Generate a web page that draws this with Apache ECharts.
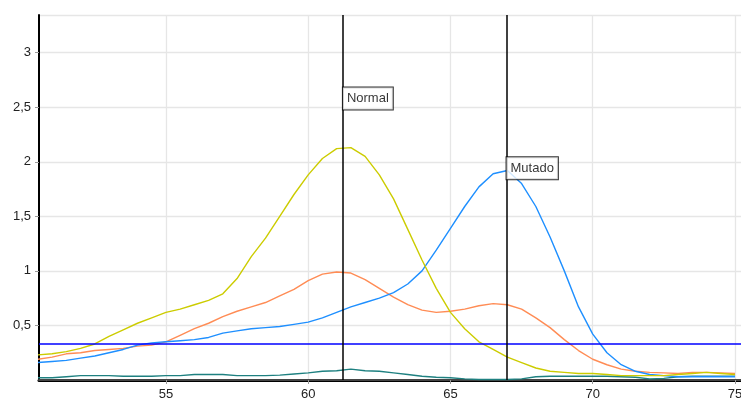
<!DOCTYPE html>
<html>
<head>
<meta charset="utf-8">
<script src="https://cdn.jsdelivr.net/npm/echarts@6/dist/echarts.min.js"></script>
<style>
  html, body { margin: 0; padding: 0; background: #fff; }
  #chart { width: 741px; height: 405px; }
</style>
</head>
<body>
<div id="chart"></div>
<script>
// Temperature (°C) sampled every 0.5 degrees
const temps = [50.5,51,51.5,52,52.5,53,53.5,54,54.5,55,55.5,56,56.5,57,57.5,58,58.5,59,59.5,60,
  60.5,61,61.5,62,62.5,63,63.5,64,64.5,65,65.5,66,66.5,67,67.5,68,68.5,69,69.5,70,
  70.5,71,71.5,72,72.5,73,73.5,74,74.5,75];

// Melt-curve derivative values per sample
const yellowVals = [0.23,0.24,0.26,0.29,0.33,0.40,0.46,0.52,0.57,0.62,0.65,0.69,0.73,0.79,0.93,1.13,1.30,1.50,1.70,1.88,
  2.03,2.12,2.13,2.05,1.88,1.66,1.38,1.10,0.84,0.62,0.47,0.35,0.28,0.21,0.16,0.11,0.08,0.07,0.06,0.06,
  0.05,0.04,0.04,0.04,0.04,0.05,0.06,0.07,0.06,0.05];
const orangeVals = [0.19,0.21,0.24,0.25,0.27,0.28,0.29,0.31,0.32,0.35,0.41,0.47,0.52,0.58,0.63,0.67,0.71,0.77,0.83,0.91,
  0.97,0.99,0.98,0.92,0.84,0.76,0.69,0.64,0.62,0.63,0.65,0.68,0.70,0.69,0.65,0.57,0.48,0.37,0.27,0.19,
  0.14,0.10,0.08,0.07,0.065,0.06,0.07,0.07,0.065,0.06];
const blueVals = [0.16,0.17,0.18,0.20,0.22,0.25,0.28,0.32,0.34,0.35,0.36,0.37,0.39,0.43,0.45,0.47,0.48,0.49,0.51,0.53,
  0.57,0.62,0.67,0.71,0.75,0.80,0.88,1.00,1.19,1.39,1.59,1.77,1.89,1.92,1.80,1.59,1.31,1.00,0.67,0.42,
  0.25,0.14,0.08,0.05,0.04,0.03,0.03,0.03,0.03,0.03];
const tealVals = [0.02,0.02,0.03,0.04,0.04,0.04,0.035,0.035,0.035,0.04,0.04,0.05,0.05,0.05,0.04,0.04,0.04,0.045,0.055,0.065,
  0.08,0.085,0.1,0.085,0.08,0.065,0.05,0.035,0.025,0.02,0.01,0.005,0.005,0.005,0.01,0.03,0.035,0.035,0.035,0.035,
  0.035,0.03,0.025,0.01,0.015,0.03,0.035,0.035,0.035,0.035];

// Threshold and marker positions
const threshold = 0.33;
const markers = [
  { name: 'Normal', temp: 61.22, level: 2.58 },
  { name: 'Mutado', temp: 66.97, level: 1.94 }
];

const xTicks = [55, 60, 65, 70, 75];

const pair = vals => temps.map((t, i) => [t, vals[i]]);
const lineSeries = (vals, color) => ({
  type: 'line', data: pair(vals), showSymbol: false, smooth: false,
  lineStyle: { color: color, width: 1.4 }, silent: true, z: 3
});

const chart = echarts.init(document.getElementById('chart'), null, { renderer: 'canvas' });
chart.setOption({
  animation: false,
  backgroundColor: '#ffffff',
  textStyle: { fontFamily: 'Liberation Sans, Arial, sans-serif' },
  grid: { left: 39, right: 0, top: 15, bottom: 25, containLabel: false, outerBoundsMode: 'none' },
  xAxis: [{
    type: 'value', min: 50.54, max: 75.21,
    axisLine: { show: true, onZero: false, lineStyle: { color: '#000', width: 3 } },
    axisTick: { show: true, customValues: xTicks, length: 4, lineStyle: { color: '#999' } },
    axisLabel: { customValues: xTicks, color: '#222', fontSize: 13, margin: 8 },
    splitLine: { show: true, lineStyle: { color: '#e6e6e6', width: 1.3 } }
  }, {
    type: 'value', position: 'top', min: 50.54, max: 75.21,
    axisLine: { show: true, lineStyle: { color: '#444', width: 2 } },
    axisTick: { show: false }, axisLabel: { show: false }, splitLine: { show: false }
  }],
  yAxis: {
    type: 'value', min: 0, max: 3.345, interval: 0.5,
    axisLine: { show: true, lineStyle: { color: '#000', width: 2 } },
    axisTick: { show: true, length: 4, lineStyle: { color: '#999' } },
    axisLabel: {
      color: '#222', fontSize: 13, margin: 8, showMaxLabel: false, showMinLabel: false,
      formatter: v => String(v).replace('.', ',')
    },
    splitLine: { show: true, lineStyle: { color: '#e6e6e6', width: 1.3 } }
  },
  series: [
    lineSeries(tealVals, '#1e8080'),
    lineSeries(orangeVals, '#ff8c55'),
    lineSeries(blueVals, '#1e8fff'),
    Object.assign(lineSeries(yellowVals, '#cccc00'), {
      markLine: {
        silent: true, symbol: 'none', animation: false,
        label: { show: false },
        data: [
          { yAxis: threshold, lineStyle: { color: '#0000ff', width: 1.5, type: 'solid' } },
          ...markers.map(m => ({ xAxis: m.temp, lineStyle: { color: '#000', width: 1.5, type: 'solid' } }))
        ]
      }
    }),
    {
      type: 'scatter', symbolSize: 0, silent: true, z: 10,
      data: markers.map(m => ({ value: [m.temp, m.level], name: m.name })),
      label: {
        show: true, position: 'right', distance: 0,
        formatter: p => p.name,
        color: '#000', fontSize: 13,
        backgroundColor: '#fff', borderColor: '#000', borderWidth: 1,
        padding: [5, 4, 4, 4]
      }
    }
  ]
});
</script>
</body>
</html>
